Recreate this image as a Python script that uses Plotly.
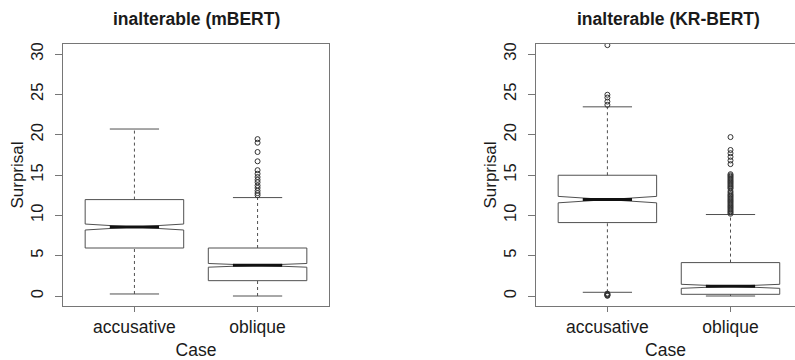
import plotly.graph_objects as go

# ---------------- data ----------------
categories = ["accusative", "oblique"]
cat_pos = [1, 2]

# mBERT
m_lower = [0.25, 0.0]
m_q1 = [5.95, 1.9]
m_median = [8.55, 3.8]
m_q3 = [11.95, 5.95]
m_upper = [20.7, 12.2]
m_notch = [0.37, 0.23]
m_out_acc = []
m_out_obl = [19.45, 19.0, 17.85, 16.7, 15.6, 15.15, 14.75, 14.4, 14.1, 13.7,
             13.4, 13.05, 12.75, 12.5]

# KR-BERT
k_lower = [0.46, 0.0]
k_q1 = [9.1, 0.21]
k_median = [11.95, 1.2]
k_q3 = [14.97, 4.14]
k_upper = [23.45, 10.1]
k_notch = [0.4, 0.25]
k_out_acc = [31.1, 24.95, 24.6, 24.1, 23.7, 0.3, 0.22, 0.15, 0.08, 0.02]
k_out_obl = [19.7, 18.1, 17.7, 17.25, 16.8, 16.35,
             15.1, 14.95, 14.8, 14.65, 14.5, 14.35, 14.2, 14.05, 13.9, 13.75,
             13.6, 13.45, 13.3, 13.0, 12.8,
             12.6, 12.45, 12.3, 12.15, 12.0, 11.85, 11.7, 11.55, 11.4, 11.25,
             11.1, 10.95, 10.8, 10.65, 10.5, 10.35, 10.2]

y_ticks = [0, 5, 10, 15, 20, 25, 30]
titles = ["inalterable (mBERT)", "inalterable (KR-BERT)"]

# ---------------- style ----------------
FONT = "Liberation Sans, Arial, Helvetica, sans-serif"
TXT = "#1a1a1a"
BOX_COL = "#505050"
FRAME_COL = "#767676"
BOX_W = 0.8
HALF_CAP = 0.2
HALF_MED = 0.2

fig = go.Figure()


def add_panel(xa, ya, lower, q1, med, q3, upper, notch, out_acc, out_obl):
    # notched boxes (whiskers drawn separately as dashed lines)
    fig.add_trace(go.Box(
        x=cat_pos, q1=q1, median=med, q3=q3, lowerfence=q1, upperfence=q3,
        notchspan=notch, notched=True, notchwidth=0.5, whiskerwidth=0,
        width=BOX_W, boxpoints=False, fillcolor="white",
        line=dict(color=BOX_COL, width=1), xaxis=xa, yaxis=ya,
        showlegend=False, hoverinfo="skip"))
    for i, c in enumerate(cat_pos):
        # dashed whiskers
        fig.add_trace(go.Scatter(
            x=[c, c, None, c, c], y=[lower[i], q1[i], None, q3[i], upper[i]],
            mode="lines", line=dict(color=BOX_COL, width=1, dash="3px,3px"),
            xaxis=xa, yaxis=ya, showlegend=False, hoverinfo="skip"))
        # caps
        fig.add_trace(go.Scatter(
            x=[c - HALF_CAP, c + HALF_CAP, None, c - HALF_CAP, c + HALF_CAP],
            y=[lower[i], lower[i], None, upper[i], upper[i]],
            mode="lines", line=dict(color=BOX_COL, width=1),
            xaxis=xa, yaxis=ya, showlegend=False, hoverinfo="skip"))
        # thick median
        fig.add_trace(go.Scatter(
            x=[c - HALF_MED, c + HALF_MED], y=[med[i], med[i]],
            mode="lines", line=dict(color="#111111", width=3),
            xaxis=xa, yaxis=ya, showlegend=False, hoverinfo="skip"))
    # outliers
    for c, pts in zip(cat_pos, [out_acc, out_obl]):
        if pts:
            fig.add_trace(go.Scatter(
                x=[c] * len(pts), y=pts, mode="markers",
                marker=dict(symbol="circle-open", size=5, color="#333333",
                            line=dict(color="#333333", width=1)),
                xaxis=xa, yaxis=ya, showlegend=False, hoverinfo="skip"))


add_panel("x", "y", m_lower, m_q1, m_median, m_q3, m_upper, m_notch,
          m_out_acc, m_out_obl)
add_panel("x2", "y2", k_lower, k_q1, k_median, k_q3, k_upper, k_notch,
          k_out_acc, k_out_obl)

W, H = 795, 360
y_dom = [(H - 306) / H, (H - 44) / H]

xcommon = dict(
    tickmode="array", tickvals=cat_pos, ticktext=categories,
    ticks="outside", ticklen=5, tickcolor=FRAME_COL, tickwidth=1,
    showline=True, linecolor=FRAME_COL, linewidth=1, mirror=True,
    showgrid=False, zeroline=False, automargin=False,
    tickfont=dict(family=FONT, size=17.5, color=TXT),
    title=dict(text="Case", font=dict(family=FONT, size=17.5, color=TXT),
               standoff=15),
)
ycommon = dict(
    range=[-1.24, 31.24], tickmode="array", tickvals=y_ticks,
    ticks="outside", ticklen=7, tickcolor=FRAME_COL, tickwidth=1,
    tickangle=-90, ticklabelstandoff=5, automargin=False,
    showline=True, linecolor=FRAME_COL, linewidth=1,
    showgrid=False, zeroline=False, domain=y_dom,
    tickfont=dict(family=FONT, size=16.5, color=TXT),
    title=dict(text="Surprisal", font=dict(family=FONT, size=17, color=TXT),
               standoff=0),
)

fig.update_layout(
    width=W, height=H,
    margin=dict(l=0, r=0, t=0, b=0, autoexpand=False),
    paper_bgcolor="white", plot_bgcolor="white",
    xaxis=dict(xcommon, domain=[63 / W, 329 / W], range=[0.42, 2.58],
               anchor="y"),
    yaxis=dict(ycommon, mirror=True, anchor="x"),
    xaxis2=dict(xcommon, domain=[536 / W, 1.0], range=[0.42, 2.524],
                anchor="y2"),
    yaxis2=dict(ycommon, mirror=False, anchor="x2"),
)

for xr, t in zip(["x", "x2"], titles):
    fig.add_annotation(
        text="<b>" + t + "</b>", xref=xr, x=1.5, yref="paper",
        y=(H - 19) / H, yanchor="middle", xanchor="center", showarrow=False,
        font=dict(family=FONT, size=17.5, color=TXT))

fig.write_html(
    "out.html",
    config={"displayModeBar": False},
    post_script="document.body.style.margin='0';document.body.style.overflow='hidden';",
)
